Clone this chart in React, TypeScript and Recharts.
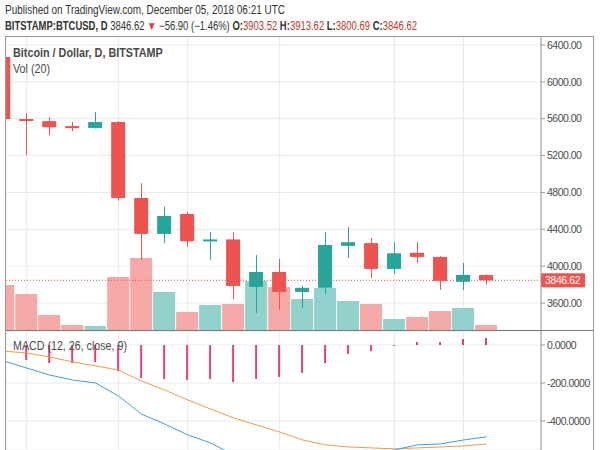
import React from 'react';
import { ComposedChart, Bar, Line, XAxis, YAxis, CartesianGrid, ReferenceLine, Cell } from 'recharts';

// daily candles, BITSTAMP:BTCUSD (14 Nov -> 05 Dec 2018)
const days = [
    'Nov 14', 'Nov 15', 'Nov 16', 'Nov 17', 'Nov 18', 'Nov 19', 'Nov 20', 'Nov 21',
    'Nov 22', 'Nov 23', 'Nov 24', 'Nov 25', 'Nov 26', 'Nov 27', 'Nov 28', 'Nov 29',
    'Nov 30', 'Dec 01', 'Dec 02', 'Dec 03', 'Dec 04', 'Dec 05',
];
const opens = [6270, 5597, 5574, 5520, 5500, 5564, 4740, 4350, 4566, 4270, 4290, 3774, 3937, 3720, 3765, 4220, 4250, 3970, 4145, 4100, 3830, 3903.52];
const highs = [6280, 5662, 5618, 5565, 5673, 5575, 4900, 4645, 4590, 4370, 4370, 4120, 4080, 3790, 4370, 4425, 4305, 4260, 4260, 4110, 4035, 3913.62];
const lows = [5580, 5207, 5423, 5465, 5495, 4710, 4070, 4250, 4210, 4070, 3643, 3490, 3525, 3546, 3700, 4090, 3870, 3915, 4030, 3745, 3740, 3800.69];
const closes = [5597, 5590, 5508, 5498, 5564, 4740, 4350, 4545, 4270, 4290, 3785, 3937, 3720, 3765, 4230, 4260, 3970, 4140, 4100, 3840, 3905, 3846.62];
const volumes = [18000, 14400, 6000, 2000, 1600, 21200, 28800, 15200, 7200, 10000, 10400, 19600, 17200, 12400, 16800, 11600, 10400, 4400, 5200, 7600, 8800, 2000];

// MACD (12, 26, close, 9)
const macdLine = [-84, -121, -158, -184, -200, -269, -364, -416, -473, -516, -579, -600, -626, -647, -621, -584, -574, -552, -526, -521, -500, -484];
const signalLine = [-32, -42, -63, -89, -110, -132, -190, -237, -289, -337, -384, -421, -458, -500, -526, -537, -542, -547, -542, -537, -532, -521];
const histogram = [-52, -79, -95, -95, -90, -137, -174, -179, -184, -179, -195, -179, -168, -147, -95, -47, -32, -5, 16, 16, 32, 37];

const priceTicks = [3600, 4000, 4400, 4800, 5200, 5600, 6000, 6400];
const macdTicks = [-400, -200, 0];
const gridDays = [1, 5, 8, 12, 17, 20];

const UP = '#26a69a';
const DOWN = '#ef5350';
const UP_VOL = '#92d2cc';
const DOWN_VOL = '#f7a9a7';
const GRID = '#e6eaee';
const FRAME = '#9a9a9a';
const TEXT = '#4a4a4a';
const VALUE_RED = '#c0392b';

const data = days.map((day, i) => ({
    i,
    day,
    open: opens[i],
    high: highs[i],
    low: lows[i],
    close: closes[i],
    range: [lows[i], highs[i]],
    volume: volumes[i],
    macd: macdLine[i],
    signal: signalLine[i],
    hist: histogram[i],
}));

const last = data[data.length - 1];
const change = last.close - last.open;
const changePct = (change / last.open) * 100;
const fmtSigned = (v: number) => (v < 0 ? '\u2212' : '+') + Math.abs(v).toFixed(2);

const xDomain = [0.1, 23.37];

const Candle = (props: any) => {
    const { x, y, width, height, payload } = props;
    if (!payload) return null;
    const { open, close, high, low } = payload;
    const color = close >= open ? UP : DOWN;
    const h = Math.abs(height);
    const top = Math.min(y, y + height);
    const ratio = h / (high - low);
    const bodyTop = top + (high - Math.max(open, close)) * ratio;
    const bodyH = Math.max(2, Math.abs(open - close) * ratio);
    const cx = Math.round(x + width / 2) + 0.5;
    return (
        <g>
            <line x1={cx} x2={cx} y1={top} y2={top + h} stroke={color} strokeWidth={1} />
            <rect x={x} y={bodyTop} width={width} height={bodyH} fill={color} />
        </g>
    );
};

const PriceTag = (props: any) => {
    const vb = props.viewBox || {};
    const x = (vb.x ?? 0) + (vb.width ?? 0);
    const y = vb.y ?? 0;
    return (
        <g>
            <rect x={x} y={y - 7} width={44} height={14} fill={DOWN} />
            <text x={x + 4} y={y + 4} fill='#fff' fontSize={10.5} letterSpacing={-0.4}>
                {last.close.toFixed(2)}
            </text>
        </g>
    );
};

const tickStyle = { fontSize: 10.5, fill: TEXT, letterSpacing: -0.5 };

// narrow look for html labels
const squeeze = (k: number): React.CSSProperties => ({
    transform: `scaleX(${k})`,
    transformOrigin: 'left center',
    whiteSpace: 'nowrap',
});

const App: React.FC = () => {
    return (
        <div
            style={{
                position: 'relative',
                width: 600,
                height: 450,
                overflow: 'hidden',
                background: '#fff',
                fontFamily: "'Liberation Sans', Arial, sans-serif",
            }}
        >
            <style>{'body{margin:0;overflow:hidden}'}</style>

            <div style={{ position: 'absolute', left: 5, top: 2, fontSize: 12, lineHeight: '16px', color: '#333', ...squeeze(0.83) }}>
                Published on TradingView.com, December 05, 2018 06:21 UTC
            </div>
            <div style={{ position: 'absolute', left: 5, top: 18, fontSize: 12, lineHeight: '16px', color: '#333', ...squeeze(0.79) }}>
                <b>BITSTAMP:BTCUSD, D</b> {last.close.toFixed(2)} <span style={{ color: '#e53935' }}>▼</span>{' '}
                {fmtSigned(change)} ({fmtSigned(changePct)}%) <b>O:</b>
                <span style={{ color: VALUE_RED }}>{last.open.toFixed(2)}</span> <b>H:</b>
                <span style={{ color: VALUE_RED }}>{last.high.toFixed(2)}</span> <b>L:</b>
                <span style={{ color: VALUE_RED }}>{last.low.toFixed(2)}</span> <b>C:</b>
                <span style={{ color: VALUE_RED }}>{last.close.toFixed(2)}</span>
            </div>

            {/* price + volume pane */}
            <div style={{ position: 'absolute', left: 6, top: 36 }}>
                <ComposedChart width={594} height={294} data={data} margin={{ top: 0, right: 0, bottom: 0, left: 0 }}>
                    <XAxis xAxisId='c' dataKey='i' type='number' domain={xDomain} ticks={gridDays} allowDataOverflow hide />
                    <XAxis xAxisId='v' dataKey='i' type='number' domain={xDomain} allowDataOverflow hide />
                    <YAxis
                        yAxisId='price'
                        orientation='right'
                        width={59}
                        type='number'
                        domain={[3307, 6498]}
                        ticks={priceTicks}
                        allowDataOverflow
                        tickFormatter={(v: number) => v.toFixed(2)}
                        tick={tickStyle}
                        tickSize={4}
                        tickLine={{ stroke: FRAME }}
                        axisLine={{ stroke: FRAME }}
                    />
                    <YAxis yAxisId='vol' type='number' domain={[0, 117600]} hide />
                    <CartesianGrid xAxisId='c' yAxisId='price' stroke={GRID} />
                    <Bar xAxisId='v' yAxisId='vol' dataKey='volume' barSize={22} isAnimationActive={false}>
                        {data.map((d) => (
                            <Cell key={`vol-${d.i}`} fill={d.close >= d.open ? UP_VOL : DOWN_VOL} />
                        ))}
                    </Bar>
                    <Bar xAxisId='c' yAxisId='price' dataKey='range' barSize={14} shape={<Candle />} isAnimationActive={false} />
                    <ReferenceLine
                        xAxisId='c'
                        yAxisId='price'
                        y={last.close}
                        stroke={DOWN}
                        strokeDasharray='1 2'
                        label={<PriceTag />}
                    />
                </ComposedChart>
            </div>

            {/* MACD pane */}
            <div style={{ position: 'absolute', left: 6, top: 331 }}>
                <ComposedChart width={594} height={119} data={data} margin={{ top: 0, right: 0, bottom: 0, left: 0 }}>
                    <XAxis dataKey='i' type='number' domain={xDomain} ticks={gridDays} allowDataOverflow hide />
                    <YAxis
                        orientation='right'
                        width={59}
                        type='number'
                        domain={[-553, 74]}
                        ticks={macdTicks}
                        allowDataOverflow
                        tickFormatter={(v: number) => v.toFixed(4)}
                        tick={tickStyle}
                        tickSize={4}
                        tickLine={{ stroke: FRAME }}
                        axisLine={{ stroke: FRAME }}
                    />
                    <CartesianGrid stroke={GRID} />
                    <Bar dataKey='hist' barSize={2} fill='#e2407a' isAnimationActive={false} />
                    <Line dataKey='signal' stroke='#f49a45' strokeWidth={1} dot={false} isAnimationActive={false} />
                    <Line dataKey='macd' stroke='#3d9fe0' strokeWidth={1} dot={false} isAnimationActive={false} />
                </ComposedChart>
            </div>

            {/* pane legends */}
            <div style={{ position: 'absolute', left: 13, top: 45, fontSize: 12, lineHeight: '16px', color: TEXT, fontWeight: 'bold', ...squeeze(0.9) }}>
                Bitcoin / Dollar, D, BITSTAMP
            </div>
            <div style={{ position: 'absolute', left: 13, top: 61, fontSize: 12, lineHeight: '16px', color: TEXT, ...squeeze(0.9) }}>
                Vol (20)
            </div>
            <div style={{ position: 'absolute', left: 13, top: 338, fontSize: 12, lineHeight: '16px', color: TEXT, ...squeeze(0.89) }}>
                MACD (12, 26, close, 9)
            </div>

            {/* frame */}
            <div style={{ position: 'absolute', left: 5, top: 36, width: 588, height: 1, background: FRAME }} />
            <div style={{ position: 'absolute', left: 5, top: 330, width: 588, height: 1, background: '#7a7a7a' }} />
            <div style={{ position: 'absolute', left: 5, top: 36, width: 1, height: 414, background: FRAME }} />
            <div style={{ position: 'absolute', left: 593, top: 36, width: 1, height: 414, background: FRAME }} />
        </div>
    );
};

export default App;
